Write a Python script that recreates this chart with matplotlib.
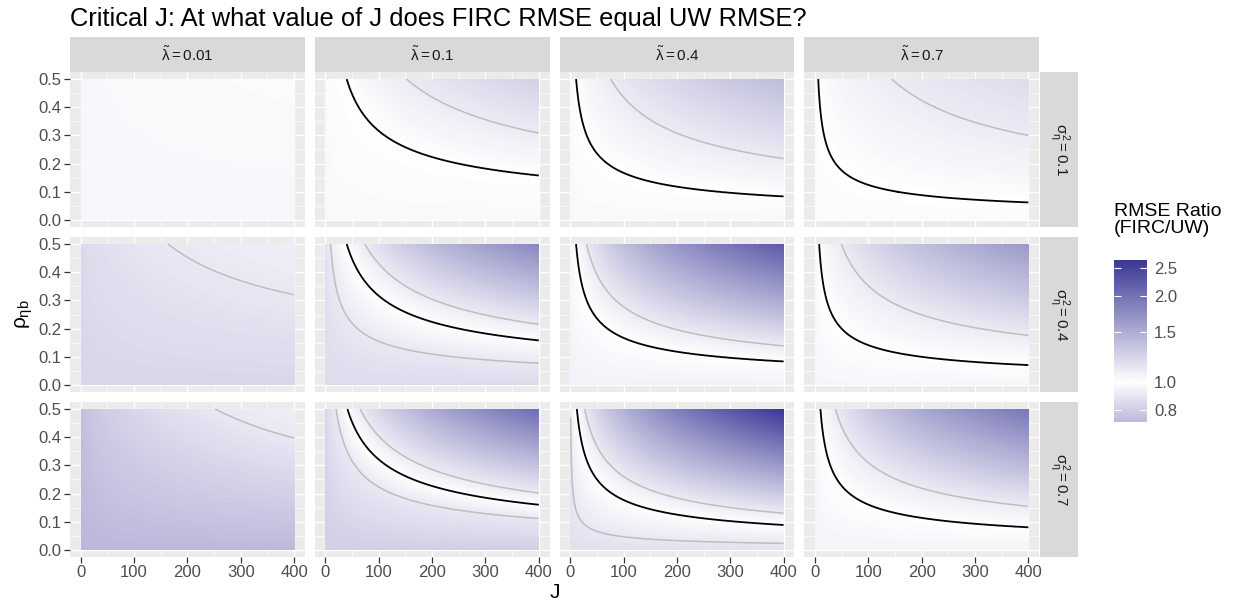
import numpy as np
import matplotlib
matplotlib.use('Agg')
import matplotlib.pyplot as plt
from matplotlib.colors import LinearSegmentedColormap, Normalize
from matplotlib.ticker import MultipleLocator

plt.rcParams['font.family'] = ['Liberation Sans', 'DejaVu Sans']
plt.rcParams['mathtext.fontset'] = 'custom'
plt.rcParams['mathtext.rm'] = 'Liberation Sans'
plt.rcParams['mathtext.it'] = 'Liberation Sans'
plt.rcParams['mathtext.bf'] = 'Liberation Sans:bold'

# facet labels
lambdas = ['0.01', '0.1', '0.4', '0.7']
sigmas = ['0.1', '0.4', '0.7']

# RMSE ratio at a few values of J*rho^2 (per lambda column)
jr2_sig01 = [[0, 100], [0, 10, 38, 100], [0, 2.8, 19, 100], [0, 1.55, 36, 100]]
ratio_sig01 = [[0.965, 0.98], [0.97, 1.0, 1.1, 1.25], [0.97, 1.0, 1.1, 1.38], [0.98, 1.0, 1.1, 1.18]]

jr2_sig04 = [[0, 41, 100], [0, 2.4, 10, 18.5, 100], [0, 2.8, 7.7, 100], [0, 2.0, 12.4, 100]]
ratio_sig04 = [[0.83, 0.9, 0.93], [0.85, 0.9, 1.0, 1.1, 1.8], [0.94, 1.0, 1.1, 2.25], [0.96, 1.0, 1.1, 1.65]]

jr2_sig07 = [[0, 63, 100], [0, 5, 10.3, 16.3, 100], [0, 0.22, 3.15, 6.8, 100], [0, 2.6, 9.6, 100]]
ratio_sig07 = [[0.724, 0.9, 0.93], [0.8, 0.9, 1.0, 1.1, 2.05], [0.87, 0.9, 1.0, 1.1, 2.67], [0.95, 1.0, 1.1, 1.95]]

jr2_rows = [jr2_sig01, jr2_sig04, jr2_sig07]
ratio_rows = [ratio_sig01, ratio_sig04, ratio_sig07]

grey_levels = [0.9, 1.1]
black_levels = [1.0]

legend_breaks = [0.8, 1.0, 1.5, 2.0, 2.5]
legend_labels = ['0.8', '1.0', '1.5', '2.0', '2.5']
ratio_lo, ratio_hi = 0.724, 2.67

J = np.linspace(1, 400, 400)
rho = np.linspace(0, 0.5, 251)
JJ, RR = np.meshgrid(J, rho)

W, H = 1238, 607
fig = plt.figure(figsize=(W / 100, H / 100), dpi=100)


def box(x0, y0, w, h):
    return [x0 / W, 1 - (y0 + h) / H, w / W, h / H]


cmap = LinearSegmentedColormap.from_list('firc', ['#3A2A94', '#FFFFFF', '#3B3896'])
vmax = np.log(ratio_hi)
norm = Normalize(-vmax, vmax)

pw, ph = 234.75, 155
for r in range(3):
    for c in range(4):
        x0 = 70 + c * 244.75
        y0 = 72 + r * 165
        ax = fig.add_axes(box(x0, y0, pw, ph))
        ax.set_facecolor('#EBEBEB')
        for sp in ax.spines.values():
            sp.set_visible(False)
        ax.set_xlim(-20, 420)
        ax.set_ylim(-0.025, 0.525)
        ax.xaxis.set_major_locator(MultipleLocator(100))
        ax.xaxis.set_minor_locator(MultipleLocator(50))
        ax.yaxis.set_major_locator(MultipleLocator(0.1))
        ax.yaxis.set_minor_locator(MultipleLocator(0.05))
        ax.grid(which='major', color='white', lw=1.0)
        ax.grid(which='minor', color='white', lw=0.5)
        ax.set_axisbelow(True)
        ax.tick_params(which='minor', length=0)
        ax.tick_params(which='major', length=4, width=0.9, color='#333333',
                       labelsize=12, labelcolor='#4D4D4D', pad=2)
        if r < 2:
            ax.tick_params(axis='x', length=0, labelbottom=False)
        else:
            ax.set_xticks([0, 100, 200, 300, 400])
            ax.set_xticklabels(['0', '100', '200', '300', '400'])
        if c > 0:
            ax.tick_params(axis='y', length=0, labelleft=False)
        else:
            ax.set_yticks([0, 0.1, 0.2, 0.3, 0.4, 0.5])
            ax.set_yticklabels(['0.0', '0.1', '0.2', '0.3', '0.4', '0.5'])

        s_pts = np.sqrt(jr2_rows[r][c])
        lr_pts = np.log(ratio_rows[r][c])
        logr = np.interp(np.sqrt(JJ * RR ** 2), s_pts, lr_pts)
        ax.imshow(logr, extent=[0, 400, 0, 0.5], origin='lower', aspect='auto',
                  cmap=cmap, norm=norm, interpolation='bilinear', zorder=1)
        ax.contour(J, rho, logr, levels=np.log(grey_levels), colors='#BEBEBE',
                   linewidths=1.1, linestyles='solid', zorder=2)
        ax.contour(J, rho, logr, levels=np.log(black_levels), colors='black',
                   linewidths=1.3, linestyles='solid', zorder=3)

        if r == 0:
            st = fig.add_axes(box(x0, 37, pw, 35))
            st.set_facecolor('#D9D9D9')
            st.set_xticks([]); st.set_yticks([])
            for sp in st.spines.values():
                sp.set_visible(False)
            st.text(0.5, 0.5, r'$\tilde{\lambda} = ' + lambdas[c] + '$', ha='center',
                    va='center', fontsize=11, color='#1A1A1A', transform=st.transAxes)
        if c == 3:
            st = fig.add_axes(box(1040, y0, 38, ph))
            st.set_facecolor('#D9D9D9')
            st.set_xticks([]); st.set_yticks([])
            for sp in st.spines.values():
                sp.set_visible(False)
            st.text(0.5, 0.5, r'$\sigma^2_\eta = ' + sigmas[r] + '$', ha='center',
                    va='center', fontsize=11, color='#1A1A1A', rotation=-90,
                    transform=st.transAxes)

# colour bar
cb = fig.add_axes(box(1114, 260, 33, 162))
grad = np.linspace(np.log(ratio_lo), np.log(ratio_hi), 300).reshape(-1, 1)
cb.imshow(grad, extent=[0, 1, np.log(ratio_lo), np.log(ratio_hi)], origin='lower',
          aspect='auto', cmap=cmap, norm=norm)
cb.set_xlim(0, 1)
cb.set_ylim(np.log(ratio_lo), np.log(ratio_hi))
for sp in cb.spines.values():
    sp.set_visible(False)
cb.set_xticks([])
cb.yaxis.tick_right()
cb.set_yticks(np.log(legend_breaks))
cb.set_yticklabels(legend_labels)
cb.tick_params(axis='y', length=0, labelsize=12, labelcolor='#4D4D4D', pad=5)
cb.hlines(np.log(legend_breaks), 0, 0.2, color='white', lw=0.8)
cb.hlines(np.log(legend_breaks), 0.8, 1, color='white', lw=0.8)

fig.text(1114 / W, 1 - 203 / H, 'RMSE Ratio\n(FIRC/UW)', ha='left', va='top',
         fontsize=14, color='black', linespacing=1.0)
fig.text(70 / W, 1 - 19 / H, 'Critical J: At what value of J does FIRC RMSE equal UW RMSE?',
         ha='left', va='center', fontsize=18.4, color='black')
fig.text(24 / W, 1 - 314 / H, r'$\rho_{\eta b}$', rotation=90, ha='center', va='center',
         fontsize=15)
fig.text(554.5 / W, 1 - 592 / H, 'J', ha='center', va='center', fontsize=15)

fig.savefig('out.png', dpi=100)
